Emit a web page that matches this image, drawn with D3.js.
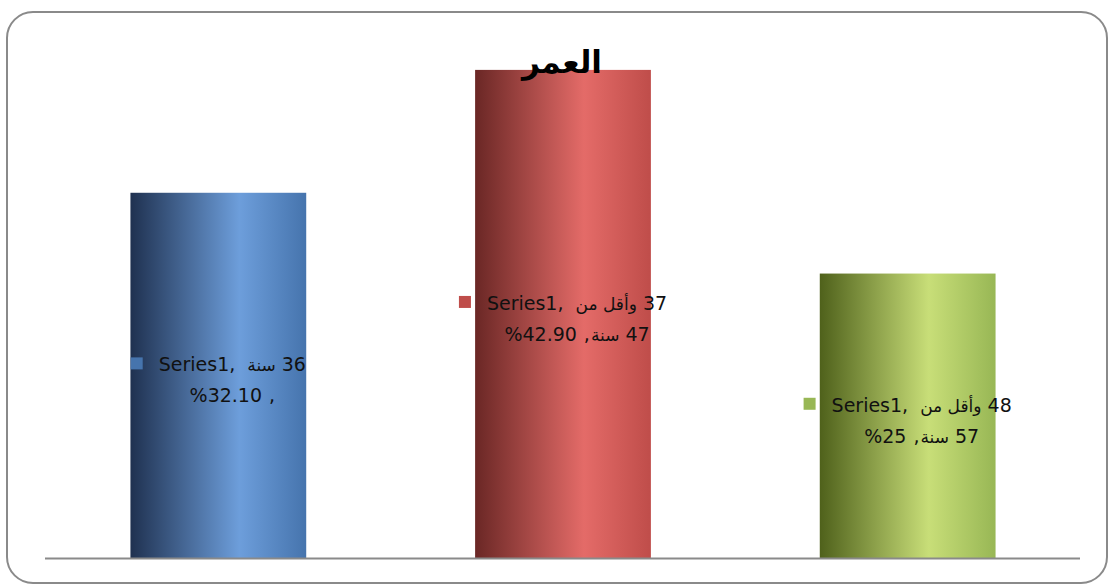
<!DOCTYPE html>
<html>
<head>
<meta charset="utf-8">
<script src="https://cdn.jsdelivr.net/npm/d3@7/dist/d3.min.js"></script>
<style>
  html, body { margin: 0; padding: 0; background: #ffffff; }
  svg { display: block; }
</style>
</head>
<body>
<svg id="chart" width="1110" height="586"></svg>
<script>
// Age distribution (العمر) – one series, three age bands
const seriesName = "Series1";
const categories = ["36 سنة", "37 وأقل من 47 سنة", "48 وأقل من 57 سنة"];
const values = [32.1, 42.9, 25];
// label pieces, in the order they appear from left to right
const labelLine1 = [["سنة", "36"], ["وأقل من", "37"], ["وأقل من", "48"]];
const labelLine2Tail = [[], ["سنة", "47"], ["سنة", "57"]];
const titleText = "العمر";

const barColors = [
  { dark: "#1f3150", light: "#6d9edb", edge: "#4674ad" },
  { dark: "#6a2725", light: "#e46b68", edge: "#bf4d4a" },
  { dark: "#4f611b", light: "#c8de78", edge: "#98b755" }
];

const svg = d3.select("#chart");

// outer rounded frame
svg.append("rect")
  .attr("x", 7).attr("y", 12).attr("width", 1100).attr("height", 571)
  .attr("rx", 26).attr("ry", 26)
  .attr("fill", "#ffffff").attr("stroke", "#8a8a8a").attr("stroke-width", 2);

const x = d3.scaleBand().domain(categories).range([46, 1080])
  .paddingInner(0.49).paddingOuter(0.245);
const y = d3.scaleLinear().domain([0, 45]).range([558, 46]);

// horizontal gradients give the bars a cylindrical look
const defs = svg.append("defs");
barColors.forEach((c, i) => {
  const g = defs.append("linearGradient").attr("id", "bar" + i)
    .attr("x1", "0%").attr("x2", "100%").attr("y1", "0%").attr("y2", "0%");
  g.append("stop").attr("offset", "0%").attr("stop-color", c.dark);
  g.append("stop").attr("offset", "62%").attr("stop-color", c.light);
  g.append("stop").attr("offset", "100%").attr("stop-color", c.edge);
});

svg.append("g").selectAll("rect").data(values).join("rect")
  .attr("x", (d, i) => x(categories[i]))
  .attr("y", d => y(d))
  .attr("width", x.bandwidth())
  .attr("height", d => y(0) - y(d))
  .attr("fill", (d, i) => `url(#bar${i})`);

// category axis line
svg.append("line")
  .attr("x1", 45).attr("x2", 1080)
  .attr("y1", y(0) + 0.5).attr("y2", y(0) + 0.5)
  .attr("stroke", "#8a8a8a").attr("stroke-width", 2);

// data labels
const fmt = v => (Number.isInteger(v) ? String(v) : v.toFixed(2));
const labelFont = "'DejaVu Sans', sans-serif";
const isArabic = t => /[\u0600-\u06FF]/.test(t);

function piece(g, text, arabic) {
  return g.append("text")
    .attr("font-family", labelFont)
    .attr("font-size", arabic ? 17 : 19)
    .attr("fill", "#111111")
    .text(text);
}

function layoutLine(g, parts, baseline) {
  const nodes = parts.map(p => piece(g, p.t, isArabic(p.t)));
  const widths = nodes.map(n => n.node().getComputedTextLength());
  let total = 0;
  parts.forEach((p, i) => { total += widths[i] + (i > 0 ? p.gap : 0); });
  return { nodes, widths, total, baseline, parts };
}

values.forEach((v, i) => {
  const g = svg.append("g");
  const cx = x(categories[i]) + x.bandwidth() / 2;
  const cy = y(v / 2);

  const p1 = [{ t: seriesName + "," }]
    .concat(labelLine1[i].map((t, k) => ({ t, gap: k === 0 ? 12 : 6 })));
  const p2 = [{ t: "%" + fmt(v) }, { t: ",", gap: 7 }]
    .concat(labelLine2Tail[i].map((t, k) => ({ t, gap: k === 0 ? 1 : 6 })));

  const l1 = layoutLine(g, p1, cy - 4);
  const l2 = layoutLine(g, p2, cy + 27);
  const marker = 12, mgap = 16;
  const blockW = marker + mgap + Math.max(l1.total, l2.total);
  const textCenter = cx - blockW / 2 + marker + mgap + l1.total / 2;

  [l1, l2].forEach(L => {
    let xx = textCenter - L.total / 2;
    L.nodes.forEach((n, k) => {
      if (k > 0) xx += L.parts[k].gap;
      n.attr("x", xx).attr("y", L.baseline);
      xx += L.widths[k];
    });
  });

  g.append("rect")
    .attr("x", textCenter - l1.total / 2 - mgap - marker)
    .attr("y", cy - 4 - 14)
    .attr("width", marker).attr("height", marker)
    .attr("fill", barColors[i].edge);
});

// chart title
svg.append("text")
  .attr("x", 562).attr("y", 73)
  .attr("text-anchor", "middle")
  .attr("font-family", labelFont)
  .attr("font-weight", "bold")
  .attr("font-size", 31)
  .attr("fill", "#000000")
  .text(titleText);
</script>
</body>
</html>
